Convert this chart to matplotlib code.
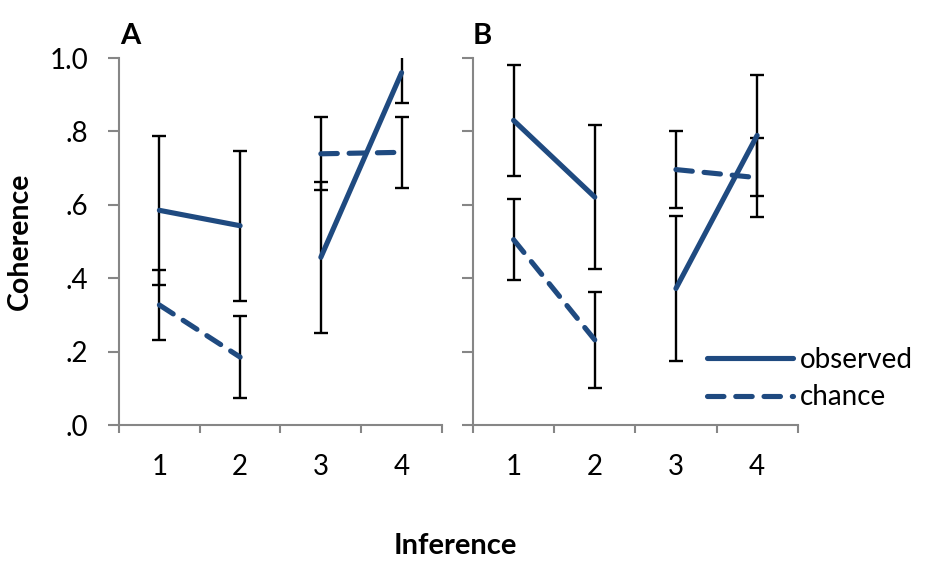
import numpy as np
import matplotlib
matplotlib.use('Agg')
import matplotlib.pyplot as plt
from matplotlib.lines import Line2D

plt.rcParams['font.family'] = ['Lato', 'DejaVu Sans']

inference = [1, 2, 3, 4]
tick_labels = ['.0', '.2', '.4', '.6', '.8', '1.0']

# panel A
obs_a = [0.585, 0.543, 0.457, 0.96]
obs_err_a = [0.203, 0.204, 0.205, 0.082]
chance_a = [0.327, 0.185, 0.739, 0.743]
chance_err_a = [0.095, 0.112, 0.099, 0.096]

# panel B
obs_b = [0.83, 0.621, 0.372, 0.789]
obs_err_b = [0.152, 0.196, 0.198, 0.166]
chance_b = [0.505, 0.232, 0.696, 0.674]
chance_err_b = [0.11, 0.13, 0.104, 0.107]

blue = '#1f4a80'
grey = '#868686'
dash = (3.2, 2.3)


def panel(ax, obs, obs_err, chance, chance_err, ylabels):
    x = np.array(inference)
    ax.errorbar(x, obs, yerr=obs_err, fmt='none', ecolor='black', elinewidth=1.7,
                capsize=4.8, capthick=1.7, zorder=2)
    ax.errorbar(x, chance, yerr=chance_err, fmt='none', ecolor='black', elinewidth=1.7,
                capsize=4.8, capthick=1.7, zorder=2)
    # lines only join 1-2 and 3-4
    for seg in (slice(0, 2), slice(2, 4)):
        ax.plot(x[seg], np.array(obs)[seg], color=blue, lw=3.7,
                solid_capstyle='round', zorder=3)
        ax.plot(x[seg], np.array(chance)[seg], color=blue, lw=3.7,
                dashes=dash, dash_capstyle='round', zorder=3)

    ax.set_xlim(0.5, 4.5)
    ax.set_ylim(0, 1.0)
    for s in ('top', 'right'):
        ax.spines[s].set_visible(False)
    for s in ('left', 'bottom'):
        ax.spines[s].set_color(grey)
        ax.spines[s].set_linewidth(1.5)

    ax.set_yticks(np.arange(0, 1.01, 0.2))
    if ylabels:
        ax.set_yticklabels(tick_labels)
    else:
        ax.set_yticklabels([])
    ax.tick_params(axis='y', direction='out', length=8, width=1.5, color=grey,
                   pad=14, labelsize=20)

    ax.set_xticks([0.5, 1.5, 2.5, 3.5, 4.5])
    ax.set_xticklabels([])
    ax.set_xticks(inference, minor=True)
    ax.set_xticklabels([str(i) for i in inference], minor=True)
    ax.tick_params(axis='x', which='major', direction='out', length=6, width=1.5,
                   color=grey)
    ax.tick_params(axis='x', which='minor', length=0, pad=21, labelsize=20)


fig = plt.figure(figsize=(9.32, 5.61), dpi=100)
ax_a = fig.add_axes([0.1277, 0.2424, 0.3465, 0.6542])
ax_b = fig.add_axes([0.5075, 0.2424, 0.3484, 0.6542])

panel(ax_a, obs_a, obs_err_a, chance_a, chance_err_a, True)
panel(ax_b, obs_b, obs_err_b, chance_b, chance_err_b, False)

ax_a.set_ylabel('Coherence', fontsize=20.5, fontweight='bold', labelpad=12)
fig.text(0.488, 0.012, 'Inference', fontsize=21, fontweight='bold', ha='center')
fig.text(0.129, 0.922, 'A', fontsize=21, fontweight='bold')
fig.text(0.507, 0.922, 'B', fontsize=21, fontweight='bold')

handles = [Line2D([], [], color=blue, lw=3.7, solid_capstyle='round'),
           Line2D([], [], color=blue, lw=3.7, dashes=dash, dash_capstyle='round')]
ax_b.legend(handles, ['observed', 'chance'], loc='lower left',
            bbox_to_anchor=(0.685, 0.01), frameon=False, fontsize=20,
            handlelength=3.1, handletextpad=0.25, labelspacing=0.42,
            borderaxespad=0.0)

fig.savefig('out.png', dpi=100)
